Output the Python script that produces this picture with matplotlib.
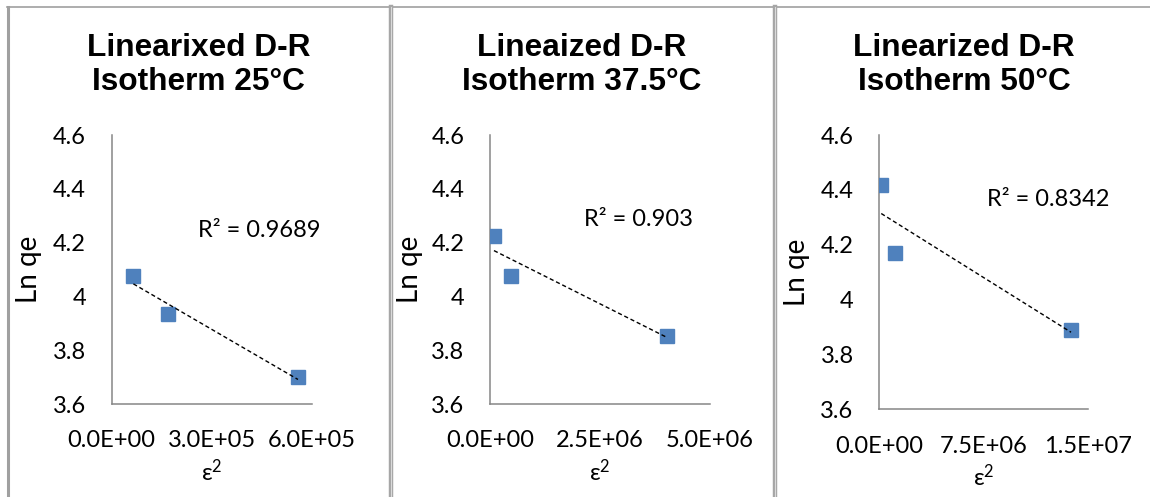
import numpy as np
import matplotlib
matplotlib.use("Agg")
import matplotlib.pyplot as plt
from matplotlib.lines import Line2D
from matplotlib.ticker import FuncFormatter

# data
titles = ["Linearixed D-R\nIsotherm 25°C",
          "Lineaized D-R\nIsotherm 37.5°C",
          "Linearized D-R\nIsotherm 50°C"]
eps2_25 = [6.5e4, 1.68e5, 5.58e5]
lnqe_25 = [4.076, 3.935, 3.699]
eps2_375 = [9.0e4, 4.84e5, 4.03e6]
lnqe_375 = [4.226, 4.076, 3.853]
eps2_50 = [1.4e5, 1.13e6, 1.38e7]
lnqe_50 = [4.417, 4.171, 3.889]
r2_labels = ["R² = 0.9689", "R² = 0.903", "R² = 0.8342"]
x_ticks = [[0, 3e5, 6e5], [0, 2.5e6, 5e6], [0, 7.5e6, 1.5e7]]
y_ticks = [3.6, 3.8, 4.0, 4.2, 4.4, 4.6]

plt.rcParams["mathtext.fontset"] = "custom"
plt.rcParams["mathtext.rm"] = "Lato"
plt.rcParams["mathtext.it"] = "Lato:italic"

W, H = 1150, 497
fig = plt.figure(figsize=(W / 100, H / 100), dpi=100)
body = ["Lato", "DejaVu Sans"]
tick_fs = 17

# axes boxes in pixels: left, right, top, bottom
boxes = [(111.7, 312, 135, 404), (490, 710, 135, 404), (879.3, 1087.7, 135, 409.3)]
r2_pos = [(197.7, 230.7), (584.3, 220), (987.3, 199)]
title_x = [198.5, 582, 964]
ylab_off = [70, 67, 69]

series = [(eps2_25, lnqe_25), (eps2_375, lnqe_375), (eps2_50, lnqe_50)]

for i, (xs, ys) in enumerate(series):
    l, r, t, b = boxes[i]
    ax = fig.add_axes([l / W, (H - b) / H, (r - l) / W, (b - t) / H])
    xs = np.array(xs)
    ys = np.array(ys)
    ax.plot(xs, ys, "s", color="#4F81BD", markersize=10.3, zorder=3)
    k, c = np.polyfit(xs, ys, 1)
    xl = np.array([xs.min(), xs.max()])
    ax.plot(xl, k * xl + c, color="black", lw=1.0, ls=(0, (3, 2)), zorder=4)

    ax.set_xlim(x_ticks[i][0], x_ticks[i][-1])
    ax.set_ylim(3.6, 4.6)
    ax.set_xticks(x_ticks[i])
    ax.set_yticks(y_ticks)
    ax.xaxis.set_major_formatter(FuncFormatter(lambda v, p: f"{v:.1E}"))
    ax.yaxis.set_major_formatter(FuncFormatter(lambda v, p: f"{v:g}"))
    ax.tick_params(length=0, labelsize=tick_fs, labelcolor="black")
    ax.tick_params(axis="y", pad=18.5)
    ax.tick_params(axis="x", pad=19)
    for lab in ax.get_xticklabels() + ax.get_yticklabels():
        lab.set_family(body)
    for s in ["top", "right"]:
        ax.spines[s].set_visible(False)
    for s in ["left", "bottom"]:
        ax.spines[s].set_color("#868686")
        ax.spines[s].set_linewidth(1.1)

    ax.set_ylabel("Ln qe", fontsize=20, family=body)
    ax.yaxis.set_label_coords(-ylab_off[i] / (r - l), 0.5)
    ax.set_xlabel("ε$^{2}$", fontsize=17, family=body)
    ax.xaxis.set_label_coords(0.5, -54 / (b - t))

    tx, ty = r2_pos[i]
    fig.text(tx / W, 1 - ty / H, r2_labels[i], fontsize=tick_fs, family=body,
             ha="left", va="center")
    fig.text(title_x[i] / W, 1 - 65 / H, titles[i], fontsize=22.8,
             family="Liberation Sans", weight="bold", ha="center", va="center",
             linespacing=1.2)

# table cell borders
def fline(x0, y0, x1, y1, lw, color):
    fig.add_artist(Line2D([x0 / W, x1 / W], [1 - y0 / H, 1 - y1 / H],
                          transform=fig.transFigure, lw=lw, color=color))

fline(7, 7.3, W, 7.3, 1.2, "#A0A0A0")
fline(8.3, 7, 8.3, H, 2.2, "#A0A0A0")
for sx in [390.5, 774.5]:
    fline(sx, 7, sx, H, 3.2, "#A6A6A6")
    fline(sx, 7, sx, H, 0.8, "#DADADA")

fig.savefig("out.png", dpi=100)
